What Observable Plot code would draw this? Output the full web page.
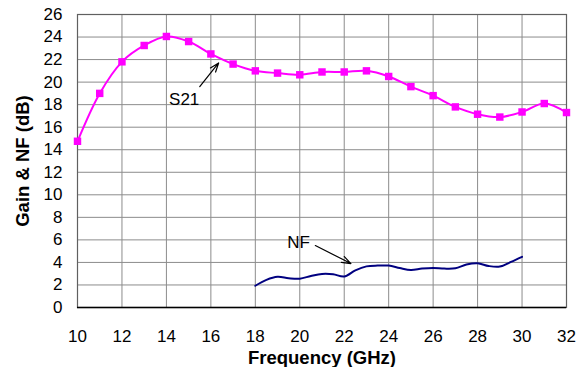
<!DOCTYPE html>
<html><head><meta charset="utf-8">
<script src="https://cdn.jsdelivr.net/npm/d3@7"></script>
<script src="https://cdn.jsdelivr.net/npm/@observablehq/plot@0.6"></script>
<style>
body{margin:0;background:#fff}
#chart svg{font-family:"Liberation Sans",Arial,sans-serif;background:#fff}
</style>
</head><body><div id="chart"></div>
<script>
// S21 gain (dB) vs frequency (GHz)
const s21Freq = [10,11,12,13,14,15,16,17,18,19,20,21,22,23,24,25,26,27,28,29,30,31,32];
const s21Gain = [14.75,19.0,21.8,23.25,24.05,23.6,22.5,21.6,21.0,20.8,20.65,20.9,20.9,21.0,20.5,19.6,18.8,17.8,17.15,16.9,17.35,18.1,17.3];
// Noise figure (dB) vs frequency (GHz)
const nfFreq = [18,18.5,19,19.5,20,20.5,21,21.5,22,22.5,23,23.5,24,24.5,25,25.5,26,26.5,27,27.5,28,28.5,29,29.5,30];
const nfVals = [1.93,2.45,2.72,2.6,2.56,2.8,2.98,2.95,2.75,3.3,3.65,3.72,3.72,3.5,3.33,3.45,3.5,3.45,3.48,3.82,3.93,3.68,3.63,4.05,4.5];
const xTicks = [10,12,14,16,18,20,22,24,26,28,30,32];
const yTicks = [0,2,4,6,8,10,12,14,16,18,20,22,24,26];
// annotations: label text, label position, arrow from/to (data units)
const annText = ["S21","NF"];
const annX = [14.8,19.95];
const annY = [18.45,5.8];
const arrowX1 = [15.5,20.7];
const arrowY1 = [19.6,5.5];
const arrowX2 = [16.35,22.3];
const arrowY2 = [21.7,3.9];

const s21 = s21Freq.map((f,i)=>({f, v:s21Gain[i]}));
const nf = nfFreq.map((f,i)=>({f, v:nfVals[i]}));
const ann = annText.map((t,i)=>({t, x:annX[i], y:annY[i], x1:arrowX1[i], y1:arrowY1[i], x2:arrowX2[i], y2:arrowY2[i]}));

const chart = Plot.plot({
  width: 588, height: 367,
  marginLeft: 77, marginRight: 22, marginTop: 14, marginBottom: 60,
  style: {fontSize: "17px", fontFamily: "Liberation Sans, Arial, sans-serif", color: "#000"},
  x: {domain: [10,32]},
  y: {domain: [0,26]},
  marks: [
    Plot.gridX(xTicks, {stroke: "#8c8c8c", strokeOpacity: 1, strokeWidth: 1}),
    Plot.gridY(yTicks, {stroke: "#8c8c8c", strokeOpacity: 1, strokeWidth: 1}),
    Plot.frame({stroke: "#606060", strokeWidth: 1.2}),
    Plot.ruleY([0], {stroke: "#000", strokeWidth: 1.5}),
    Plot.axisX({ticks: xTicks, tickSize: 0, tickPadding: 22, tickFormat: d => String(d),
      label: "Frequency (GHz)", labelAnchor: "center", labelArrow: "none", labelOffset: 56}),
    Plot.axisY({ticks: yTicks, tickSize: 0, tickPadding: 15, tickFormat: d => String(d),
      label: "Gain & NF (dB)", labelAnchor: "center", labelArrow: "none", labelOffset: 62}),
    Plot.line(s21, {x: "f", y: "v", stroke: "#ff00ff", strokeWidth: 2, curve: "catmull-rom"}),
    Plot.dot(s21, {x: "f", y: "v", symbol: "square", r: 4.2, fill: "#ff00ff", stroke: "none"}),
    Plot.line(nf, {x: "f", y: "v", stroke: "#000080", strokeWidth: 2, curve: "catmull-rom"}),
    Plot.arrow(ann, {x1: "x1", y1: "y1", x2: "x2", y2: "y2", stroke: "#000", strokeWidth: 1.2, headLength: 12, headAngle: 40}),
    Plot.text(ann, {x: "x", y: "y", text: "t", fontSize: 17, fill: "#000"})
  ]
});
d3.select(chart).selectAll('g[aria-label="x-axis label"] text, g[aria-label="y-axis label"] text')
  .style("font-weight", "bold").style("font-size", "18.5px");
document.getElementById("chart").appendChild(chart);
</script>
</body></html>
